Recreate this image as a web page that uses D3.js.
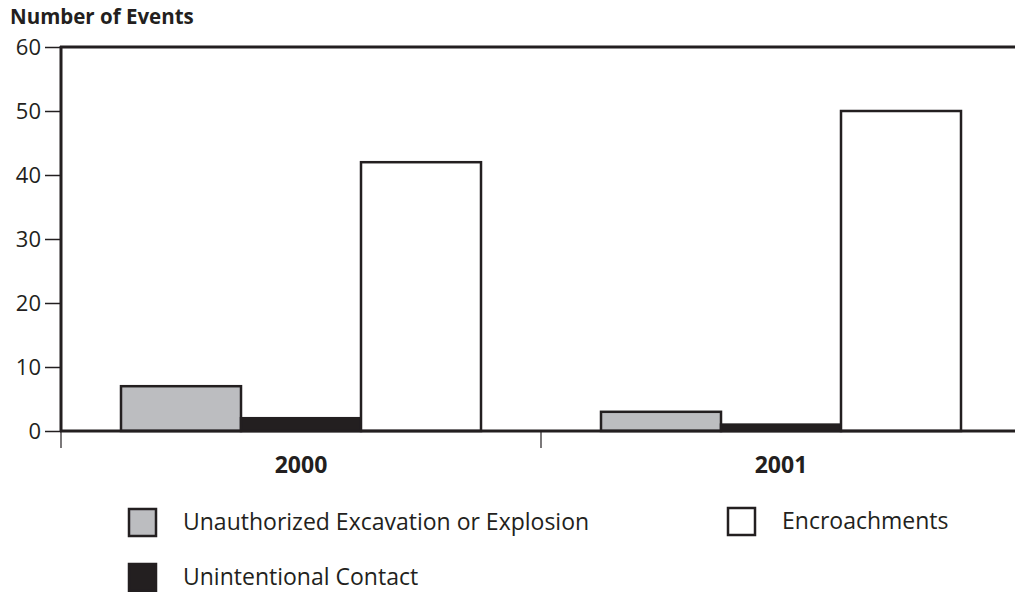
<!DOCTYPE html>
<html><head><meta charset="utf-8">
<script src="https://cdn.jsdelivr.net/npm/d3@7"></script>
<style>body{margin:0;background:#fff}svg{display:block}text{font-family:"Open Sans",Lato,sans-serif;fill:#231f20}</style>
</head><body>
<script>
const years = ["2000", "2001"];
const seriesNames = ["Unauthorized Excavation or Explosion", "Unintentional Contact", "Encroachments"];
const seriesColors = ["#bcbdc0", "#231f20", "#ffffff"];
const excavation = [7, 3];
const contact = [2, 1];
const encroachments = [42, 50];
const yTicks = [0, 10, 20, 30, 40, 50, 60];

const W = 1015, H = 592;
const svg = d3.select("body").append("svg").attr("width", W).attr("height", H);
const ink = "#231f20";
const x0 = d3.scaleBand().domain(years).range([61, 1021]);
const x1 = d3.scaleBand().domain([0,1,2]).range([60, 420]);
const y = d3.scaleLinear().domain([0, 60]).range([431, 47]);
const values = [excavation, contact, encroachments];

// bars
years.forEach((yr, i) => {
  const g = svg.append("g").attr("transform", `translate(${x0(yr)},0)`);
  g.selectAll("rect").data(values.map((v, s) => ({s, v: v[i]}))).join("rect")
    .attr("x", d => x1(d.s)).attr("width", x1.bandwidth())
    .attr("y", d => y(d.v)).attr("height", d => y(0) - y(d.v))
    .attr("fill", d => seriesColors[d.s]).attr("stroke", ink).attr("stroke-width", 2.5);
});

// y axis
const ya = svg.append("g").attr("transform", "translate(61,0)")
  .call(d3.axisLeft(y).tickValues(yTicks).tickSize(16).tickPadding(4));
ya.select(".domain").remove();
ya.selectAll("line").attr("stroke", ink).attr("stroke-width", 1.5);
ya.selectAll("text").style("font-size", "22px").attr("dy", "0.35em");
svg.append("line").attr("x1", 61).attr("x2", 61).attr("y1", 46).attr("y2", 432).attr("stroke", ink).attr("stroke-width", 3);
// top line
svg.append("line").attr("x1", 60).attr("x2", W).attr("y1", y(60)).attr("y2", y(60)).attr("stroke", ink).attr("stroke-width", 3);
// baseline
svg.append("line").attr("x1", 60).attr("x2", W).attr("y1", y(0)).attr("y2", y(0)).attr("stroke", ink).attr("stroke-width", 3);

// x axis
const xa = svg.append("g").attr("transform", `translate(0,${y(0)})`)
  .call(d3.axisBottom(x0).tickSize(0).tickPadding(26));
xa.select(".domain").remove();
xa.selectAll("text").style("font-size", "23px").style("font-weight", "bold");
years.forEach(yr => {
  svg.append("line").attr("x1", x0(yr)).attr("x2", x0(yr)).attr("y1", y(0)).attr("y2", y(0) + 17)
    .attr("stroke", ink).attr("stroke-width", 1.2);
});

// axis title
svg.append("text").attr("x", 10).attr("y", 24).text("Number of Events")
  .style("font-size", "20.5px").style("font-weight", "bold");

// legend
const legPos = [[128, 508], [128, 563], [727, 507]];
seriesNames.forEach((n, i) => {
  const [lx, ly] = legPos[i];
  svg.append("rect").attr("x", lx + 1).attr("y", ly + 1).attr("width", 27).attr("height", 27)
    .attr("fill", seriesColors[i]).attr("stroke", ink).attr("stroke-width", 2.5);
  svg.append("text").attr("x", lx + 55).attr("y", ly + 22).text(n).style("font-size", "23px");
});
</script>
</body></html>
